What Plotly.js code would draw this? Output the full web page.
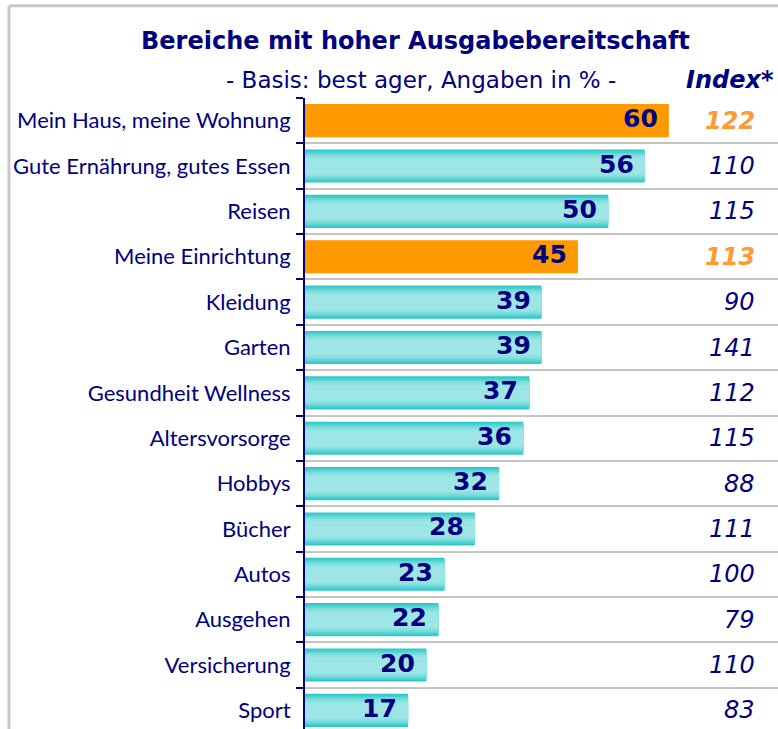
<!DOCTYPE html>
<html>
<head>
<meta charset="utf-8">
<script src="https://cdn.plot.ly/plotly-3.0.1.min.js"></script>
<style>html,body{margin:0;padding:0;background:#fff;}#chart{width:778px;height:729px;}</style>
</head>
<body>
<div id="chart"></div>
<script>
const categories = ["Mein Haus, meine Wohnung","Gute Ernährung, gutes Essen","Reisen","Meine Einrichtung","Kleidung","Garten","Gesundheit Wellness","Altersvorsorge","Hobbys","Bücher","Autos","Ausgehen","Versicherung","Sport"];
const shares = [60,56,50,45,39,39,37,36,32,28,23,22,20,17];
const indexValues = [122,110,115,113,90,141,112,115,88,111,100,79,110,83];
const highlighted = [true,false,false,true,false,false,false,false,false,false,false,false,false,false];

const NAVY = "#000080";
const ORANGE = "#FF9900";
const FONT = "'DejaVu Sans', sans-serif";
const LABEL_FONT = "Lato, 'Noto Sans', sans-serif";

const traces = [];
// base bars
traces.push({
  type: "bar", orientation: "h", y: categories, x: shares, width: 0.73,
  marker: {color: highlighted.map(h => h ? ORANGE : "#30C9C9")},
  hoverinfo: "none", showlegend: false
});
// gradient layers for teal bars
const layers = [[0.66,"#45CFCF"],[0.59,"#62D6D6"],[0.52,"#7DDDDD"],[0.44,"#90E2E2"],[0.34,"#9EE6E6"]];
layers.forEach(([w,c]) => {
  traces.push({
    type: "bar", orientation: "h", y: categories,
    x: shares.map((v,i) => highlighted[i] ? null : v), width: w,
    marker: {color: c}, hoverinfo: "none", showlegend: false
  });
});

const annotations = [];
shares.forEach((v,i) => {
  annotations.push({
    x: v, y: categories[i], xref: "x", yref: "y", text: String(v),
    xanchor: "right", yanchor: "middle", xshift: -9, yshift: 2, showarrow: false,
    font: {family: FONT, size: 25, color: NAVY, weight: 700}
  });
  annotations.push({
    x: 0.956, y: categories[i], xref: "paper", yref: "y", text: String(indexValues[i]),
    xanchor: "right", yanchor: "middle", showarrow: false,
    font: {family: FONT, size: 24, color: highlighted[i] ? "#FF9933" : NAVY,
           style: "italic", weight: highlighted[i] ? 700 : 400}
  });
});
annotations.push({
  x: 0.245, y: 1.0285, xref: "paper", yref: "paper", text: "- Basis: best ager, Angaben in % -",
  xanchor: "center", yanchor: "middle", showarrow: false,
  font: {family: FONT, size: 23, color: NAVY}
});
annotations.push({
  x: 0.996, y: 1.0285, xref: "paper", yref: "paper", text: "Index*",
  xanchor: "right", yanchor: "middle", showarrow: false,
  font: {family: FONT, size: 24, color: NAVY, style: "italic", weight: 700}
});

const layout = {
  width: 778, height: 729,
  margin: {l: 305, r: 0, t: 98, b: 0},
  paper_bgcolor: "#fff", plot_bgcolor: "#fff",
  barmode: "overlay",
  title: {
    text: "Bereiche mit hoher Ausgabebereitschaft",
    x: 0.534, xref: "container", xanchor: "center",
    y: 0.944, yref: "container", yanchor: "middle",
    font: {family: FONT, size: 24, color: NAVY, weight: 700}
  },
  xaxis: {range: [0, 78], visible: false, fixedrange: true},
  yaxis: {
    type: "category", categoryorder: "array", categoryarray: categories,
    range: [13.41, -0.5],
    tickson: "boundaries", ticks: "outside", ticklen: 7, tickwidth: 2, tickcolor: NAVY,
    showline: true, linecolor: NAVY, linewidth: 2,
    showgrid: true, gridcolor: "#C4C4C4", gridwidth: 2,
    ticklabelstandoff: 8,
    tickfont: {family: LABEL_FONT, size: 22, color: NAVY},
    zeroline: false
  },
  annotations: annotations,
  shapes: [
    {type: "line", xref: "paper", yref: "paper", x0: -0.6258, x1: -0.6258, y0: -0.1, y1: 1.146,
     line: {color: "#C8C8C8", width: 3}},
    {type: "line", xref: "paper", yref: "paper", x0: -0.6258, x1: 1.1, y0: 1.146, y1: 1.146,
     line: {color: "#C8C8C8", width: 3}}
  ]
};

Plotly.newPlot("chart", traces, layout, {displayModeBar: false, staticPlot: true});
</script>
</body>
</html>
